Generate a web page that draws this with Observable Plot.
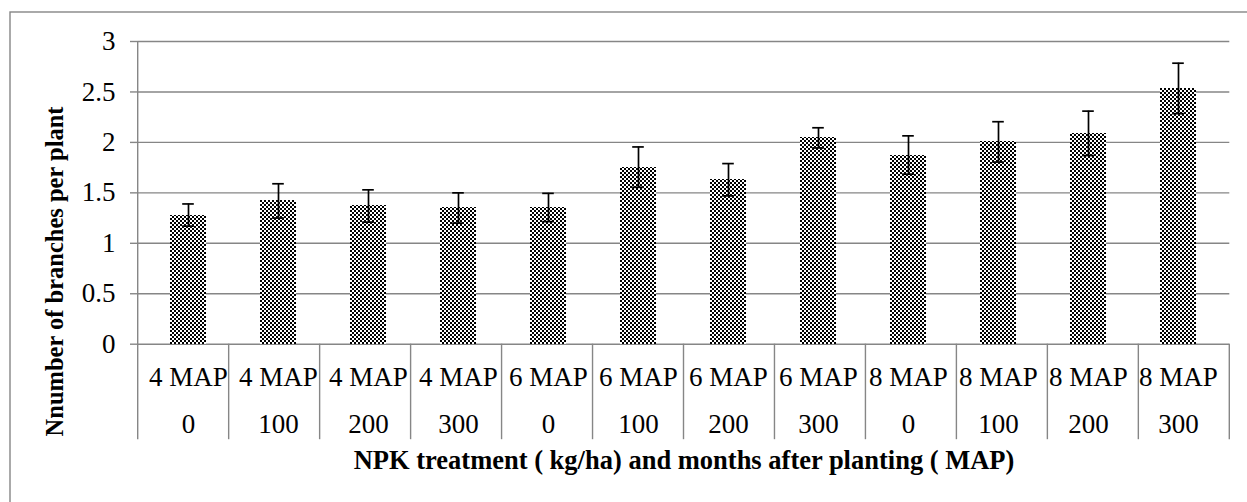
<!DOCTYPE html>
<html>
<head>
<meta charset="utf-8">
<script src="https://cdn.jsdelivr.net/npm/d3@7"></script>
<script src="https://cdn.jsdelivr.net/npm/@observablehq/plot@0.6"></script>
<style>
  html, body { margin: 0; padding: 0; background: #fff; overflow: hidden; }
  #chart { width: 1247px; height: 502px; }
</style>
</head>
<body>
<div id="chart"></div>
<script>
// ---- data ----
const months = ["4 MAP", "4 MAP", "4 MAP", "4 MAP", "6 MAP", "6 MAP", "6 MAP", "6 MAP", "8 MAP", "8 MAP", "8 MAP", "8 MAP"];
const doses  = ["0", "100", "200", "300", "0", "100", "200", "300", "0", "100", "200", "300"];
const means  = [1.28, 1.42, 1.37, 1.35, 1.355, 1.755, 1.63, 2.045, 1.875, 2.005, 2.09, 2.535];
const errors = [0.11, 0.17, 0.16, 0.15, 0.14, 0.20, 0.16, 0.10, 0.19, 0.20, 0.22, 0.25];
const yTicks = [0, 0.5, 1, 1.5, 2, 2.5, 3];
const yTitle = "Nnumber of branches per plant";
const xTitle = "NPK treatment ( kg/ha) and months after planting ( MAP)";

const keys = months.map((m, i) => i);
const data = keys.map(i => ({key: i, month: months[i], dose: doses[i], mean: means[i], err: errors[i]}));

const gray = "#868686";
const serif = "'Liberation Serif'";
const W = 1247, H = 502;

// separators between categories in the axis area (and the y axis line)
function separators(index, scales, values, dim) {
  const g = d3.create("svg:g");
  const plotW = dim.width - dim.marginLeft - dim.marginRight;
  const step = plotW / keys.length;
  const y0 = scales.y(0);
  const yTop = scales.y(3);
  for (let i = 0; i <= keys.length; i++) {
    const x = dim.marginLeft + i * step;
    g.append("line")
      .attr("x1", x).attr("x2", x)
      .attr("y1", i === 0 ? yTop : y0)
      .attr("y2", y0 + 95.5)
      .attr("stroke", gray)
      .attr("stroke-width", 1.4);
  }
  return g.node();
}

const chart = Plot.plot({
  width: W,
  height: H,
  marginTop: 41,
  marginBottom: 158.3,
  marginLeft: 137.7,
  marginRight: 17.7,
  style: {fontSize: "27px", color: "black", background: "white"},
  x: {type: "band", domain: keys, paddingInner: 0.6, paddingOuter: 0.3},
  y: {domain: [0, 3]},
  marks: [
    Plot.gridY(yTicks, {stroke: gray, strokeOpacity: 1, strokeWidth: 1.4}),
    Plot.barY(data, {x: "key", y: "mean", fill: "url(#checker)", shapeRendering: "crispEdges"}),
    Plot.ruleX(data, {x: "key", y1: d => d.mean - d.err, y2: d => d.mean + d.err, stroke: "black", strokeWidth: 1.7}),
    Plot.tickY(data, {x: "key", y: d => d.mean + d.err, stroke: "black", strokeWidth: 1.7, insetLeft: 12.2, insetRight: 12.2}),
    Plot.tickY(data, {x: "key", y: d => d.mean - d.err, stroke: "black", strokeWidth: 1.7, insetLeft: 12.2, insetRight: 12.2}),
    separators,
    Plot.axisY({ticks: yTicks, tickSize: 7.7, tickPadding: 15, stroke: gray, strokeWidth: 1.4, label: null, tickFormat: d => String(d), fontFamily: serif}),
    Plot.axisX({tickSize: 0, tickPadding: 22.3, tickFormat: i => months[i], label: null, fontFamily: serif}),
    Plot.axisX({tickSize: 0, tickPadding: 69.5, tickFormat: i => doses[i], label: null, fontFamily: serif}),
    Plot.text([xTitle], {text: d => d, frameAnchor: "bottom", textAnchor: "middle", lineAnchor: "middle", dy: 116.5, fontWeight: "bold", fontSize: 26.5, fontFamily: serif}),
    Plot.text([yTitle], {text: d => d, frameAnchor: "left", textAnchor: "middle", lineAnchor: "middle", rotate: -90, dx: -82.7, dy: 78.6, fontWeight: "bold", fontSize: 24.5, fontFamily: serif})
  ]
});

// checkerboard fill pattern + outer chart border
const svg = d3.select(chart);
svg.style("font-family", serif);
svg.selectAll("text").style("font-family", serif);
const defs = svg.insert("defs", ":first-child");
const pat = defs.append("pattern")
  .attr("id", "checker")
  .attr("patternUnits", "userSpaceOnUse")
  .attr("width", 4).attr("height", 4);
pat.append("rect").attr("width", 4).attr("height", 4).attr("fill", "white");
pat.append("rect").attr("x", 0).attr("y", 0).attr("width", 2).attr("height", 2).attr("fill", "black");
pat.append("rect").attr("x", 2).attr("y", 2).attr("width", 2).attr("height", 2).attr("fill", "black");
svg.append("rect")
  .attr("x", 10).attr("y", 12)
  .attr("width", 1400).attr("height", 700)
  .attr("fill", "none").attr("stroke", gray).attr("stroke-width", 1.4);

document.getElementById("chart").appendChild(chart);
</script>
</body>
</html>
